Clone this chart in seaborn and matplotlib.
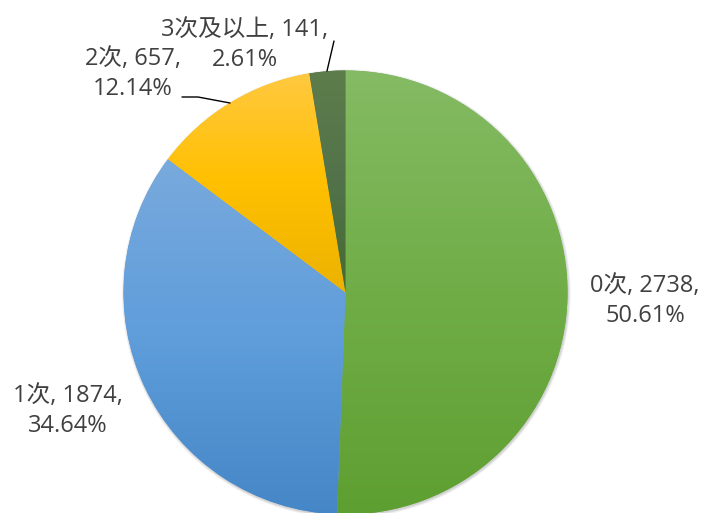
import numpy as np
import matplotlib
matplotlib.use("Agg")
import matplotlib.pyplot as plt
import matplotlib.colors as mcolors
from matplotlib.patches import Circle
import seaborn as sns

# data
categories = ["0次", "1次", "2次", "3次及以上"]
counts = [2738, 1874, 657, 141]

# gradient colours per slice: top, middle, bottom
grad_top = ["#85BB64", "#79AADD", "#FFC942", "#5E7D4C"]
grad_mid = ["#70AD47", "#5F9DDB", "#FFC000", "#52734A"]
grad_bot = ["#5E9F31", "#4586C6", "#ECB200", "#456A30"]

sns.set_theme(style="white")
plt.rcParams["font.family"] = ["Open Sans", "Noto Sans CJK SC", "DejaVu Sans"]

W, H = 704, 513
fig = plt.figure(figsize=(W / 100, H / 100), dpi=100)
ax = fig.add_axes([0, 0, 1, 1])

cx, cy, r = 345.5, H - 292.5, 222.0

# soft shadow behind the pie
for i in range(5):
    ax.add_patch(Circle((cx + 0.8, cy - 1.2), r + 0.6 * i, color="#000000",
                        alpha=0.04, lw=0, zorder=0))

wedges, _ = ax.pie(counts, startangle=90, counterclock=False,
                   center=(cx, cy), radius=r,
                   wedgeprops=dict(linewidth=0))

for w, ct, cm, cb in zip(wedges, grad_top, grad_mid, grad_bot):
    w.set_facecolor(cm)
    th = np.radians(np.linspace(w.theta1, w.theta2, 200))
    ys = np.concatenate([cy + r * np.sin(th), [cy]])
    xs = np.concatenate([cx + r * np.cos(th), [cx]])
    y0, y1 = ys.min(), ys.max()
    cmap = mcolors.LinearSegmentedColormap.from_list("g", [cb, cm, ct])
    grad = np.linspace(0, 1, 256).reshape(-1, 1)
    im = ax.imshow(grad, cmap=cmap, origin="lower", aspect="auto",
                   extent=(xs.min() - 2, xs.max() + 2, y0 - 2, y1 + 2),
                   zorder=2, interpolation="bilinear")
    im.set_clip_path(w)

total = sum(counts)
labels = [f"{c}, {n},\n{n / total * 100:.2f}%" for c, n in zip(categories, counts)]
label_pos = [(645, 301), (68, 411), (133, 74), (245, 45)]
for txt, (x, y) in zip(labels, label_pos):
    ax.text(x, H - y, txt, ha="center", va="center", fontsize=17,
            color="#404040", linespacing=1.3, zorder=5)

# leader lines
ax.plot([182, 198, 230], [H - 97, H - 97, H - 103], color="#000000", lw=1, zorder=4)
ax.plot([334, 327], [H - 41, H - 71], color="#000000", lw=1, zorder=4)

ax.set_xlim(0, W)
ax.set_ylim(0, H)
ax.set_aspect("equal")
ax.axis("off")
fig.savefig("out.png", dpi=100, facecolor="white")
